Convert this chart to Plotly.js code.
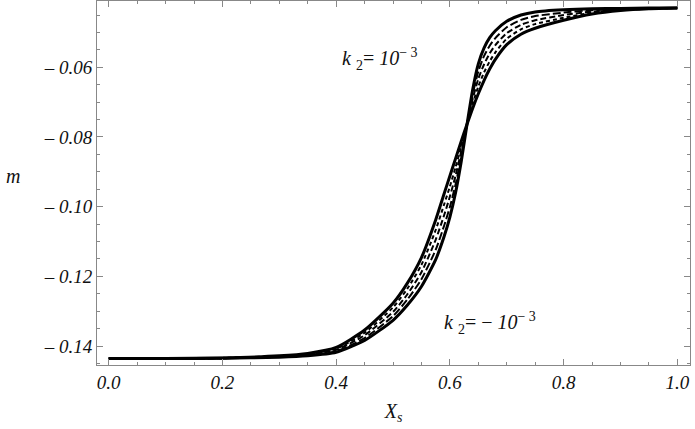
<!DOCTYPE html>
<html>
<head>
<meta charset="utf-8">
<script src="https://cdn.plot.ly/plotly-3.0.1.min.js"></script>
<style>
html,body{margin:0;padding:0;background:#fff;}
#chart{width:695px;height:429px;}
#chart svg text, #chart svg tspan { font-family: 'Liberation Serif', serif !important; }
</style>
</head>
<body>
<div id="chart"></div>
<script>
// Shared x grid (X_s)
const xs = [0, 0.1, 0.2, 0.3, 0.35, 0.4, 0.45, 0.5, 0.525, 0.55, 0.575, 0.59, 0.6, 0.61, 0.62, 0.63, 0.64, 0.65, 0.66, 0.67, 0.68, 0.7, 0.725, 0.75, 0.8, 0.85, 0.9, 0.95, 1.0];
// k2 = 1e-3 (steepest, solid)
const mA = [-0.1436, -0.1436, -0.1435, -0.1432, -0.1428, -0.1418, -0.1384, -0.1326, -0.1283, -0.1229, -0.1152, -0.1085, -0.1030, -0.0960, -0.0870, -0.0765, -0.0665, -0.0590, -0.0545, -0.0515, -0.0495, -0.0468, -0.0450, -0.0441, -0.0435, -0.0432, -0.0431, -0.0430, -0.0430];
// intermediate (dashed)
const mB = [-0.1436, -0.1436, -0.1435, -0.1431, -0.1426, -0.1415, -0.1377, -0.1314, -0.1267, -0.1208, -0.1124, -0.1054, -0.1001, -0.0936, -0.0856, -0.0765, -0.0678, -0.0612, -0.0568, -0.0538, -0.0516, -0.0485, -0.0464, -0.0453, -0.0443, -0.0436, -0.0433, -0.0431, -0.0430];
// intermediate (dashed)
const mC = [-0.1436, -0.1436, -0.1435, -0.1430, -0.1425, -0.1411, -0.1369, -0.1302, -0.1252, -0.1188, -0.1095, -0.1024, -0.0971, -0.0911, -0.0841, -0.0765, -0.0692, -0.0633, -0.0592, -0.0560, -0.0536, -0.0502, -0.0478, -0.0465, -0.0450, -0.0440, -0.0434, -0.0431, -0.0430];
// intermediate (dashed)
const mD = [-0.1436, -0.1436, -0.1434, -0.1429, -0.1423, -0.1408, -0.1362, -0.1289, -0.1236, -0.1167, -0.1067, -0.0993, -0.0942, -0.0887, -0.0827, -0.0764, -0.0705, -0.0655, -0.0615, -0.0583, -0.0557, -0.0518, -0.0491, -0.0476, -0.0458, -0.0443, -0.0436, -0.0432, -0.0430];
// k2 = -1e-3 (least steep, solid)
const mE = [-0.1436, -0.1436, -0.1434, -0.1428, -0.1421, -0.1404, -0.1354, -0.1277, -0.1220, -0.1146, -0.1038, -0.0962, -0.0912, -0.0862, -0.0812, -0.0764, -0.0718, -0.0676, -0.0638, -0.0605, -0.0577, -0.0535, -0.0505, -0.0488, -0.0465, -0.0447, -0.0437, -0.0432, -0.0430];

const xTickVals = [0, 0.2, 0.4, 0.6, 0.8, 1.0];
const xTickText = ["<i>0.0</i>", "<i>0.2</i>", "<i>0.4</i>", "<i>0.6</i>", "<i>0.8</i>", "<i>1.0</i>"];
const yTickVals = [-0.14, -0.12, -0.10, -0.08, -0.06];
const yTickText = ["<i>\u2013 0.14</i>", "<i>\u2013 0.12</i>", "<i>\u2013 0.10</i>", "<i>\u2013 0.08</i>", "<i>\u2013 0.06</i>"];

const FONT = 'Liberation Serif';

function tr(y, width, dash) {
  return {x: xs, y: y, type: 'scatter', mode: 'lines',
    line: {color: '#000', width: width, dash: dash, shape: 'spline', smoothing: 0.6},
    hoverinfo: 'skip', showlegend: false};
}

const data = [
  tr(mD, 2, '4px,3px'),
  tr(mC, 2, '6px,3px'),
  tr(mB, 2, '8px,3px'),
  tr(mE, 3, 'solid'),
  tr(mA, 3, 'solid')
];

function axis(extra) {
  return Object.assign({
    showgrid: false, zeroline: false,
    showline: true, linecolor: '#888', linewidth: 1, mirror: 'allticks',
    ticks: 'inside', ticklen: 6, tickcolor: '#888', tickwidth: 1,
    tickfont: {family: FONT, size: 19, color: '#111'},
    tickmode: 'array'
  }, extra);
}

const layout = {
  width: 695, height: 429,
  font: {family: FONT, size: 19, color: '#111'},
  margin: {l: 97, r: 5, t: 1, b: 64},
  paper_bgcolor: '#fff', plot_bgcolor: '#fff',
  xaxis: axis({
    range: [-0.0206, 1.0223], tickvals: xTickVals, ticktext: xTickText,
    minor: {dtick: 0.05, tick0: 0, ticks: 'inside', ticklen: 3, tickcolor: '#888', showgrid: false},
    title: {text: '<i>X</i><sub><i>s</i></sub>', font: {family: FONT, size: 20, color: '#111'}, standoff: 12}
  }),
  yaxis: axis({
    range: [-0.14544, -0.04097], tickvals: yTickVals, ticktext: yTickText,
    minor: {dtick: 0.005, tick0: -0.14, ticks: 'inside', ticklen: 3, tickcolor: '#888', showgrid: false}
  }),
  annotations: [
    {text: '<i>m</i>', xref: 'paper', yref: 'paper', x: -0.157, y: 0.52, xanchor: 'left', yanchor: 'middle',
     showarrow: false, font: {family: FONT, size: 20, color: '#111'}},
    {text: '<i>k</i> <sub>2</sub>= <i>10</i><sup>\u2212 3</sup>', xref: 'x', yref: 'y', x: 0.477, y: -0.0575,
     xanchor: 'center', yanchor: 'middle', showarrow: false, font: {family: FONT, size: 20, color: '#111'}},
    {text: '<i>k</i> <sub>2</sub>= \u2212 <i>10</i><sup>\u2212 3</sup>', xref: 'x', yref: 'y', x: 0.67, y: -0.1335,
     xanchor: 'center', yanchor: 'middle', showarrow: false, font: {family: FONT, size: 20, color: '#111'}}
  ]
};

Plotly.newPlot('chart', data, layout, {displayModeBar: false});
</script>
</body>
</html>
